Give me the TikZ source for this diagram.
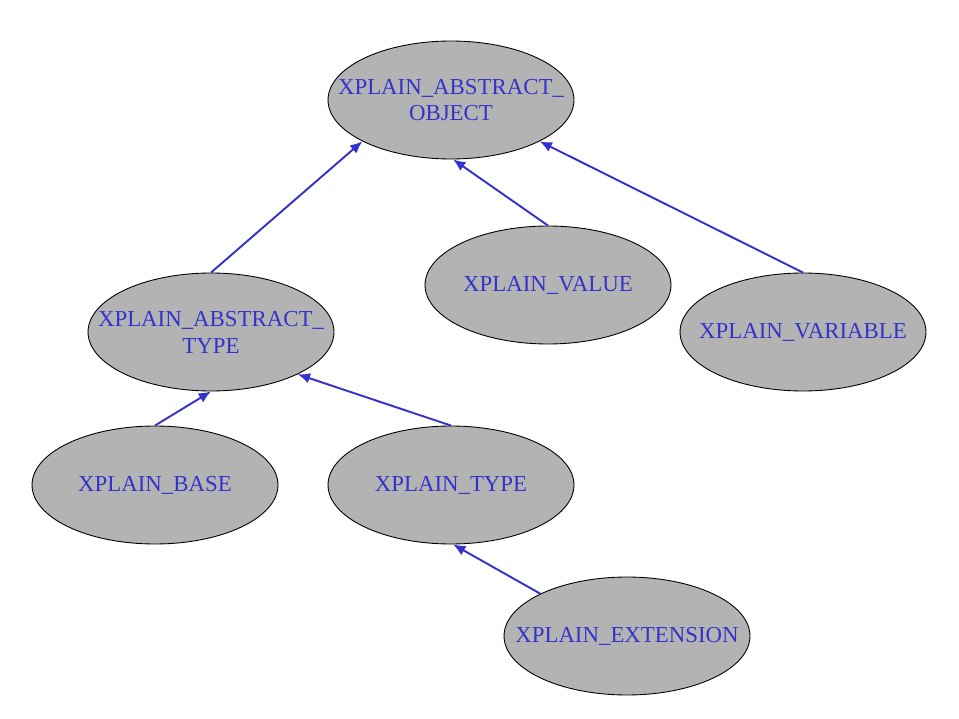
\documentclass[tikz,border=0pt]{standalone}
\usepackage{fontspec}
\setmainfont{Liberation Serif}
\usepackage{xcolor}
\usepackage{tikz}
\usetikzlibrary{shapes.geometric,arrows.meta,positioning}
\definecolor{nodegray}{HTML}{B3B3B3}
\definecolor{linkblue}{HTML}{3333CC}
\tikzstyle{classnode}=[
draw,
ellipse,
line width=0.5pt,
minimum width=4.92cm,
minimum height=2.36cm,
inner xsep=-1.5cm,
inner ysep=-1cm,
align=center,
fill=nodegray,
text=linkblue,
font=\fontsize{13}{15.3}\selectfont
]
\tikzstyle{arrow}=[
line width=1.1pt,
draw=linkblue,
-{Latex[length=7pt,width=6pt]}
]
\begin{document}
\begin{tikzpicture}[x=0.02cm,y=-0.02cm]
\useasboundingbox (0,0) rectangle (959,719);

\node (object) [classnode] at (451,100) {XPLAIN\_ABSTRACT\_\\OBJECT};
\node (value) [classnode] at (548,285) {XPLAIN\_VALUE};
\node (variable) [classnode] at (803,332) {XPLAIN\_VARIABLE};
\node (abstype) [classnode] at (211,332) {XPLAIN\_ABSTRACT\_\\TYPE};
\node (base) [classnode] at (155,485) {XPLAIN\_BASE};
\node (type) [classnode] at (451,485) {XPLAIN\_TYPE};
\node (extension) [classnode] at (627,636) {XPLAIN\_EXTENSION};

\draw [arrow] (abstype.north) -- (object.205);
\draw [arrow] (value.north) -- (object.272);
\draw [arrow] (variable.north) -- (object.335);
\draw [arrow] (base.north) -- (abstype.south);
\draw [arrow] (type.north) -- (abstype.334);
\draw [arrow] (extension.154) -- (type.272);

\end{tikzpicture}
\end{document}
